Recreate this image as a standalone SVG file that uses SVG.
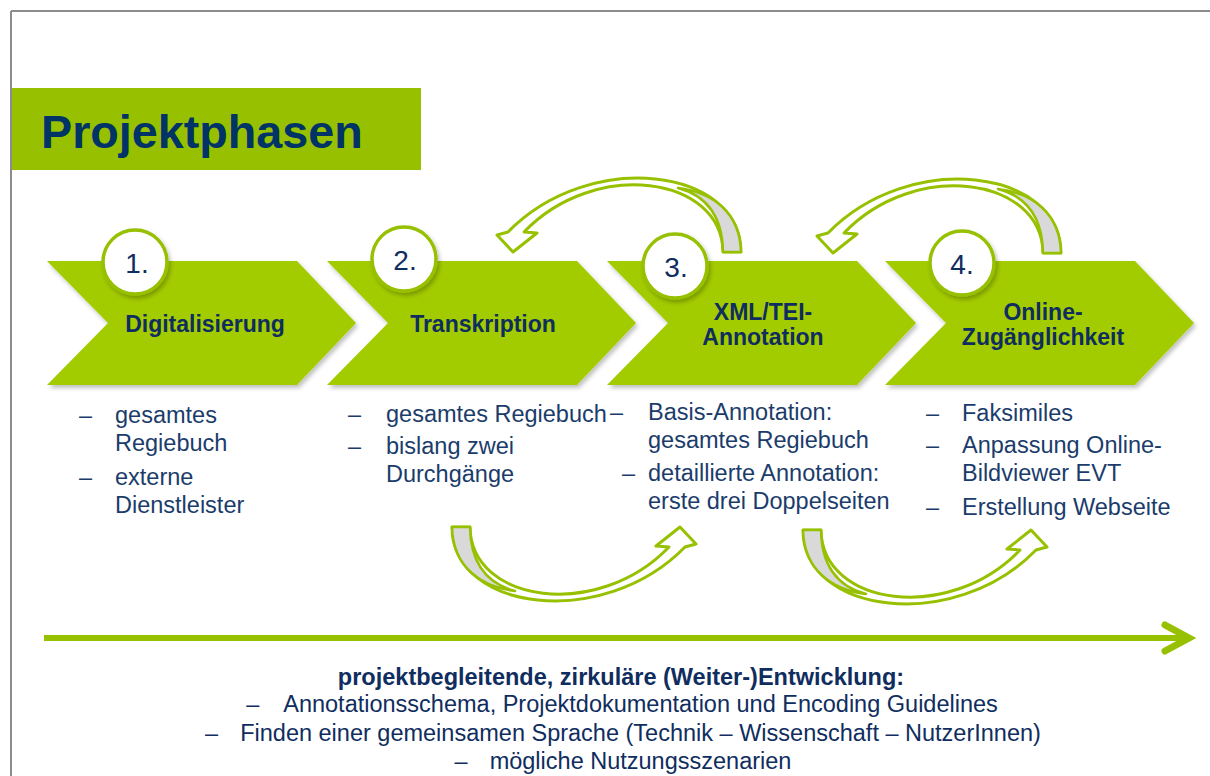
<svg xmlns="http://www.w3.org/2000/svg" width="1210" height="776" viewBox="0 0 1210 776">
  <defs>
    <filter id="sh" x="-10%" y="-10%" width="125%" height="130%">
      <feDropShadow dx="2" dy="3" stdDeviation="2" flood-color="#000" flood-opacity="0.25"/>
    </filter>
    <path id="curv" d="M 741,252 C 741,168 590,148 508,232 L 497,235 L 513,252 L 537,233 L 524,232 C 595,158 722,176 723,252 Z"/>
    <path id="cres" d="M 723,252 C 722.5,218 708,196 678,188 C 712,192 740,212 741,252 Z"/>
  </defs>
  <style>
    .chev { fill: #A3CC00; filter: url(#sh); }
    .circ { fill: #FFFFFF; stroke: #97C100; stroke-width: 3.5; filter: url(#sh); }
    .num { font-family: "Liberation Sans", Arial, sans-serif; font-size: 28px; fill: #0F2D5E; text-anchor: middle; }
    .lbl { font-family: "Liberation Sans", Arial, sans-serif; font-size: 23px; font-weight: bold; fill: #0F2D5E; text-anchor: middle; }
    .bul { font-family: "Liberation Sans", Arial, sans-serif; font-size: 23.5px; fill: #1B3C6B; }
    .bot { font-family: "Liberation Sans", Arial, sans-serif; font-size: 23.5px; fill: #0F2D5E; text-anchor: middle; }
    .band { fill: #FFFFFF; stroke: #97C100; stroke-width: 3; stroke-linejoin: round; }
    .gray { fill: #D9D9D9; stroke: #97C100; stroke-width: 2.5; stroke-linejoin: round; }
  </style>

  <!-- frame -->
  <g id="frame">
    <line x1="11" y1="11" x2="1210" y2="11" stroke="#8C8C8C" stroke-width="2"/>
    <line x1="11" y1="11" x2="11" y2="776" stroke="#8C8C8C" stroke-width="2"/>
  </g>

  <!-- title -->
  <g id="title">
    <rect x="12" y="88" width="409" height="82" fill="#97C100"/>
    <text x="41" y="148" font-family="Liberation Sans, Arial, sans-serif" font-size="46.7" font-weight="bold" fill="#003366">Projektphasen</text>
  </g>

  <!-- phase 1 -->
  <g id="phase1">
    <path class="chev" d="M 47,261 L 297,261 L 356,323 L 297,385 L 47,385 L 108,323 Z"/>
    <circle class="circ" cx="135" cy="262" r="32"/>
    <text class="num" x="137" y="273">1.</text>
    <text class="lbl" x="205" y="332">Digitalisierung</text>
  </g>

  <!-- phase 2 -->
  <g id="phase2">
    <path class="chev" d="M 327,261 L 577,261 L 636,323 L 577,385 L 327,385 L 388,323 Z"/>
    <circle class="circ" cx="404" cy="259" r="32"/>
    <text class="num" x="405" y="270">2.</text>
    <text class="lbl" x="483" y="332">Transkription</text>
  </g>

  <!-- phase 3 -->
  <g id="phase3">
    <path class="chev" d="M 607,261 L 857,261 L 916,323 L 857,385 L 607,385 L 668,323 Z"/>
    <circle class="circ" cx="675" cy="266" r="32"/>
    <text class="num" x="676" y="277">3.</text>
    <text class="lbl" x="763" y="320">XML/TEI-</text>
    <text class="lbl" x="763" y="345">Annotation</text>
  </g>

  <!-- phase 4 -->
  <g id="phase4">
    <path class="chev" d="M 885,261 L 1135,261 L 1194,323 L 1135,385 L 885,385 L 946,323 Z"/>
    <circle class="circ" cx="962" cy="263" r="32"/>
    <text class="num" x="962" y="274">4.</text>
    <text class="lbl" x="1043" y="320">Online-</text>
    <text class="lbl" x="1043" y="345">Zugänglichkeit</text>
  </g>

  <!-- bullet lists -->
  <g id="list1" class="bul">
    <text x="79" y="423">–</text>
    <text x="115" y="423">gesamtes</text>
    <text x="115" y="451">Regiebuch</text>
    <text x="79" y="485">–</text>
    <text x="115" y="485">externe</text>
    <text x="115" y="513">Dienstleister</text>
  </g>
  <g id="list2" class="bul">
    <text x="348" y="422">–</text>
    <text x="386" y="422">gesamtes Regiebuch</text>
    <text x="348" y="454">–</text>
    <text x="386" y="454">bislang zwei</text>
    <text x="386" y="482">Durchgänge</text>
  </g>
  <g id="list3" class="bul">
    <text x="610" y="420">–</text>
    <text x="648" y="420">Basis-Annotation:</text>
    <text x="648" y="448">gesamtes Regiebuch</text>
    <text x="622" y="481">–</text>
    <text x="648" y="481">detaillierte Annotation:</text>
    <text x="648" y="509">erste drei Doppelseiten</text>
  </g>
  <g id="list4" class="bul">
    <text x="926" y="421">–</text>
    <text x="962" y="421">Faksimiles</text>
    <text x="926" y="453">–</text>
    <text x="962" y="453">Anpassung Online-</text>
    <text x="962" y="481">Bildviewer EVT</text>
    <text x="926" y="515">–</text>
    <text x="962" y="515">Erstellung Webseite</text>
  </g>

  <!-- connectors -->
  <g id="connectors">
    <g id="loop-3-2">
      <use href="#curv" class="band"/>
      <use href="#cres" class="gray"/>
    </g>
    <g id="loop-4-3" transform="translate(320 1)">
      <use href="#curv" class="band"/>
      <use href="#cres" class="gray"/>
    </g>
    <g id="loop-2-3" transform="translate(1193 779) rotate(180)">
      <use href="#curv" class="band"/>
      <use href="#cres" class="gray"/>
    </g>
    <g id="loop-3-4" transform="translate(1544 782) rotate(180)">
      <use href="#curv" class="band"/>
      <use href="#cres" class="gray"/>
    </g>
    <g id="timeline">
      <line x1="44" y1="638" x2="1186" y2="638" stroke="#97C100" stroke-width="6"/>
      <polyline points="1165,625 1189,638 1165,651" fill="none" stroke="#97C100" stroke-width="7" stroke-linecap="round" stroke-linejoin="miter"/>
    </g>
  </g>

  <!-- bottom text -->
  <g id="bottom-text">
    <text class="bot" x="621" y="685" font-weight="bold">projektbegleitende, zirkuläre (Weiter-)Entwicklung:</text>
    <text class="bot" x="622" y="712">–<tspan dx="24">Annotationsschema, Projektdokumentation und Encoding Guidelines</tspan></text>
    <text class="bot" x="623" y="741">–<tspan dx="22">Finden einer gemeinsamen Sprache (Technik – Wissenschaft – NutzerInnen)</tspan></text>
    <text class="bot" x="623" y="769">–<tspan dx="22">mögliche Nutzungsszenarien</tspan></text>
  </g>
</svg>
